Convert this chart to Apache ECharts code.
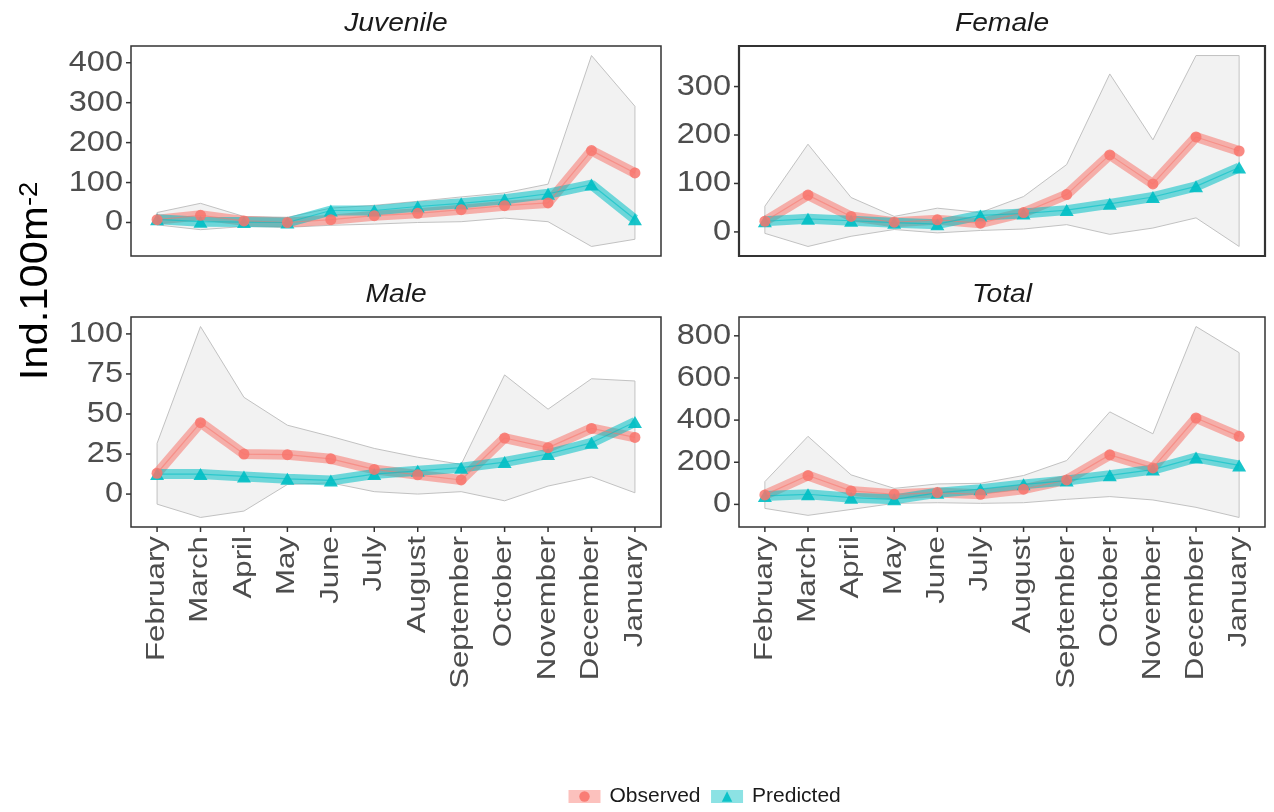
<!DOCTYPE html>
<html><head><meta charset="utf-8">
<script src="https://cdn.jsdelivr.net/npm/echarts@6/dist/echarts.min.js"></script>
<style>html,body{margin:0;padding:0;background:#fff}#c{width:1274px;height:812px}</style>
</head><body><div id="c"></div>
<script>
const months = ['February','March','April','May','June','July','August','September','October','November','December','January'];

const juvObs  = [7, 18, 4, 0, 7, 17, 23, 32, 42, 49, 180, 124];
const juvPred = [8, 2, 1, 0, 30, 30, 40, 48, 58, 72, 95, 8];
const juvLo   = [-6, -18, -10, -12, -7, -4, 0, 2, 11, 2, -60, -42];
const juvHi   = [25, 48, 15, 13, 36, 43, 53, 64, 74, 96, 418, 291];

const femObs  = [22, 76, 32, 20, 25, 18, 40, 77, 159, 99, 196, 167];
const femPred = [22, 27, 23, 19, 16, 34, 38, 45, 58, 72, 94, 133];
const femLo   = [-3, -30, -9, 5, -2, 3, 6, 15, -5, 8, 29, -30];
const femHi   = [53, 181, 71, 32, 49, 40, 73, 139, 326, 190, 364, 364];

const maleObs  = [13, 44.6, 25, 24.6, 22, 15.4, 12, 8.8, 35, 29, 41, 35.4];
const malePred = [12.5, 12.5, 11, 9.5, 8.5, 12.5, 14.5, 16.5, 20, 25, 32, 45];
const maleLo   = [-6.3, -14.6, -10.6, 6, 7, 1.5, 0, 1.5, -4.2, 5, 10.8, 0.8];
const maleHi   = [31.7, 104.6, 60.4, 43, 36, 28.5, 23, 18.5, 74.4, 53, 72, 70.6];

const totObs  = [45, 137, 64, 48, 56, 48, 72, 116, 235, 173, 410, 323];
const totPred = [40, 48, 32, 24, 55, 72, 95, 113, 138, 165, 222, 185];
const totLo   = [-19, -52, -24, 5, 8, 5, 8, 24, 37, 21, -14, -62];
const totHi   = [108, 323, 140, 76, 97, 100, 137, 208, 439, 335, 844, 720];

const juvTicks  = [0, 100, 200, 300, 400];
const femTicks  = [0, 100, 200, 300];
const maleTicks = [0, 25, 50, 75, 100];
const totTicks  = [0, 200, 400, 600, 800];

const panelNames = ['Juvenile', 'Female', 'Male', 'Total'];
const legendNames = ['Observed', 'Predicted'];
const yTitle = 'Ind.100m';
const yTitleSup = '-2';

const RED = '#F8766D', TEAL = '#00BFC4';
const FONT = '"Liberation Sans", Arial, Helvetica, sans-serif';

const panels = [
  {name: panelNames[0], obs: juvObs, pred: juvPred, lo: juvLo, hi: juvHi, ticks: juvTicks,
   grid: {left: 131, top: 46, width: 530, height: 210}, xlab: false, bw: 1.5},
  {name: panelNames[1], obs: femObs, pred: femPred, lo: femLo, hi: femHi, ticks: femTicks,
   grid: {left: 739, top: 46, width: 526, height: 210}, xlab: false, bw: 2.2},
  {name: panelNames[2], obs: maleObs, pred: malePred, lo: maleLo, hi: maleHi, ticks: maleTicks,
   grid: {left: 131, top: 317, width: 530, height: 210}, xlab: true, bw: 1.5},
  {name: panelNames[3], obs: totObs, pred: totPred, lo: totLo, hi: totHi, ticks: totTicks,
   grid: {left: 739, top: 317, width: 526, height: 210}, xlab: true, bw: 1.5}
];

function ggRange(p) {
  const all = [].concat(p.obs, p.pred, p.lo, p.hi);
  const mn = Math.min.apply(null, all), mx = Math.max.apply(null, all);
  const pad = (mx - mn) * 0.05;
  return [mn - pad, mx + pad];
}

const grids = [], xAxes = [], yAxes = [], series = [], graphics = [];

panels.forEach((p, i) => {
  const r = ggRange(p);
  grids.push(Object.assign({show: true, borderColor: '#333', borderWidth: p.bw, backgroundColor: '#fff'}, p.grid));
  xAxes.push({type: 'value', gridIndex: i, min: -0.6, max: months.length - 1 + 0.6, show: false});
  yAxes.push({type: 'value', gridIndex: i, min: r[0], max: r[1], show: false});

  const pair = arr => arr.map((v, k) => [k, v]);
  const base = {xAxisIndex: i, yAxisIndex: i, animation: false, silent: true};

  // ribbon
  series.push(Object.assign({}, base, {
    type: 'custom', name: 'band' + i, data: [[0, 0]], z: 1,
    renderItem: (params, api) => {
      const pts = [];
      for (let k = 0; k < p.hi.length; k++) pts.push(api.coord([k, p.hi[k]]));
      for (let k = p.lo.length - 1; k >= 0; k--) pts.push(api.coord([k, p.lo[k]]));
      return {type: 'polygon', shape: {points: pts},
        style: {fill: '#F2F2F2', stroke: '#C2C2C2', lineWidth: 1}};
    }
  }));
  // thick lines
  series.push(Object.assign({}, base, {type: 'line', name: 'obsLine' + i, data: pair(p.obs), symbol: 'none', z: 2,
    lineStyle: {color: RED, width: 10, opacity: 0.55}}));
  series.push(Object.assign({}, base, {type: 'line', name: 'predLine' + i, data: pair(p.pred), symbol: 'none', z: 2,
    lineStyle: {color: TEAL, width: 10, opacity: 0.55}}));
  // thin core lines
  series.push(Object.assign({}, base, {type: 'line', name: 'obsCore' + i, data: pair(p.obs), symbol: 'none', z: 3,
    lineStyle: {color: RED, width: 1.2, opacity: 0.55}}));
  series.push(Object.assign({}, base, {type: 'line', name: 'predCore' + i, data: pair(p.pred), symbol: 'none', z: 3,
    lineStyle: {color: TEAL, width: 1.2, opacity: 0.6}}));
  // points
  series.push(Object.assign({}, base, {type: 'line', name: legendNames[1], data: pair(p.pred), z: 4,
    symbol: 'triangle', symbolSize: [14, 12], showSymbol: true, color: TEAL,
    lineStyle: {color: TEAL, width: 1, opacity: 0}, itemStyle: {color: TEAL, opacity: 0.9}}));
  series.push(Object.assign({}, base, {type: 'line', name: legendNames[0], data: pair(p.obs), z: 5,
    symbol: 'circle', symbolSize: 11, showSymbol: true, color: RED,
    lineStyle: {color: RED, width: 1, opacity: 0}, itemStyle: {color: RED, opacity: 0.85}}));

  // y ticks + labels
  series.push(Object.assign({}, base, {
    type: 'custom', name: 'yticks' + i, z: 6, data: p.ticks.map(v => [0, v]),
    renderItem: (params, api) => {
      const cs = params.coordSys;
      const v = api.value(1);
      const y = api.coord([0, v])[1];
      return {type: 'group', children: [
        {type: 'line', shape: {x1: cs.x - 5, y1: y, x2: cs.x, y2: y}, style: {stroke: '#333', lineWidth: 1.5}},
        {type: 'text', x: cs.x - 8, y: y, scaleX: 1.12, style: {text: String(v), align: 'right', verticalAlign: 'middle',
          fontSize: 29, fontFamily: FONT, fill: '#4D4D4D'}}
      ]};
    }
  }));
  // x ticks + labels (bottom row)
  if (p.xlab) {
    series.push(Object.assign({}, base, {
      type: 'custom', name: 'xticks' + i, z: 6, data: months.map((m, k) => [k, 0]),
      renderItem: (params, api) => {
        const cs = params.coordSys;
        const k = api.value(0);
        const x = api.coord([k, 0])[0];
        const y0 = cs.y + cs.height;
        return {type: 'group', children: [
          {type: 'line', shape: {x1: x, y1: y0, x2: x, y2: y0 + 5}, style: {stroke: '#333', lineWidth: 1.5}},
          {type: 'text', x: x, y: y0 + 9, rotation: Math.PI / 2, scaleX: 1.25,
            style: {text: months[k], align: 'right', verticalAlign: 'middle',
              fontSize: 25, fontFamily: FONT, fill: '#4D4D4D'}}
        ]};
      }
    }));
  }
  // panel title
  graphics.push({type: 'text', x: p.grid.left + p.grid.width / 2, y: p.grid.top - 22, scaleX: 1.13,
    style: {text: p.name, align: 'center', verticalAlign: 'middle', fontSize: 25, fontStyle: 'italic',
      fontFamily: FONT, fill: '#1A1A1A'}});
});

graphics.push({type: 'text', x: 37, y: 281, rotation: Math.PI / 2, scaleX: 1.1,
  style: {text: '{a|' + yTitle + '}{b|' + yTitleSup + '}', align: 'center', verticalAlign: 'middle',
    rich: {a: {fontSize: 38, fontFamily: FONT, fill: '#000', verticalAlign: 'bottom'},
           b: {fontSize: 25, fontFamily: FONT, fill: '#000', verticalAlign: 'top'}}}});

const chart = echarts.init(document.getElementById('c'), null, {renderer: 'canvas'});
chart.setOption({
  animation: false,
  backgroundColor: '#fff',
  grid: grids, xAxis: xAxes, yAxis: yAxes, series: series, graphic: graphics,
  legend: {data: legendNames, left: 557, top: 781, itemWidth: 32, itemHeight: 13, itemGap: 4,
    selectedMode: false,
    textStyle: {fontSize: 21, fontFamily: FONT, color: '#1A1A1A', padding: [0, 0, 0, 4]},
    lineStyle: {width: 13, opacity: 0.45}, itemStyle: {opacity: 0.9}}
});
</script></body></html>
